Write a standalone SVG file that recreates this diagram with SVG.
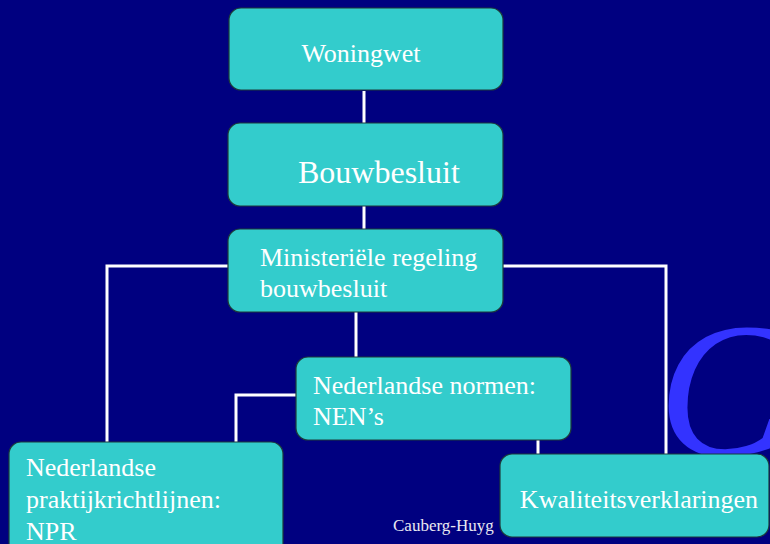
<svg xmlns="http://www.w3.org/2000/svg" width="770" height="544" viewBox="0 0 770 544">
<style>
.box{fill:#33CCCC;stroke:#1d3b3b;stroke-width:1.2}
.t{font-family:"Liberation Serif","Times New Roman",serif;fill:#ffffff;font-size:26px}
.ln{fill:none;stroke:#ffffff;stroke-width:3}
</style>
<rect width="770" height="544" fill="#000080"/>
<text x="658" y="455" font-family="Liberation Serif,serif" font-style="italic" font-size="192" fill="#3333FF">C</text>
<text x="393" y="531" font-family="Liberation Serif,serif" font-size="17" fill="#e8e8f0">Cauberg-Huyg</text>
<g id="connectors">
<line class="ln" x1="364" y1="91" x2="364" y2="123"/>
<line class="ln" x1="364" y1="206" x2="364" y2="230"/>
<polyline class="ln" points="228,266 107,266 107,442"/>
<polyline class="ln" points="503,266 666,266 666,455"/>
<line class="ln" x1="356" y1="312" x2="356" y2="357"/>
<polyline class="ln" points="296,395 236,395 236,442"/>
<line class="ln" x1="538" y1="440" x2="538" y2="455"/>
</g>
<g id="woningwet">
<rect class="box" x="229" y="8" width="274" height="82" rx="12"/>
<text class="t" x="361" y="62" text-anchor="middle">Woningwet</text>
</g>
<g id="bouwbesluit">
<rect class="box" x="228" y="123" width="275" height="83" rx="12"/>
<text class="t" x="298" y="183" style="font-size:32px">Bouwbesluit</text>
</g>
<g id="ministeriele">
<rect class="box" x="228" y="229" width="275" height="83" rx="12"/>
<text class="t" x="260" y="266">Ministeriële regeling</text>
<text class="t" x="260" y="297">bouwbesluit</text>
</g>
<g id="nen">
<rect class="box" x="296" y="357" width="275" height="83" rx="12"/>
<text class="t" x="313" y="394">Nederlandse normen:</text>
<text class="t" x="313" y="425">NEN’s</text>
</g>
<g id="npr">
<rect class="box" x="9" y="442" width="274" height="120" rx="12"/>
<text class="t" x="26" y="476">Nederlandse</text>
<text class="t" x="26" y="508">praktijkrichtlijnen:</text>
<text class="t" x="26" y="540">NPR</text>
</g>
<g id="kwaliteit">
<rect class="box" x="500" y="454" width="269" height="83" rx="12"/>
<text class="t" x="639" y="508" text-anchor="middle">Kwaliteitsverklaringen</text>
</g>
</svg>
